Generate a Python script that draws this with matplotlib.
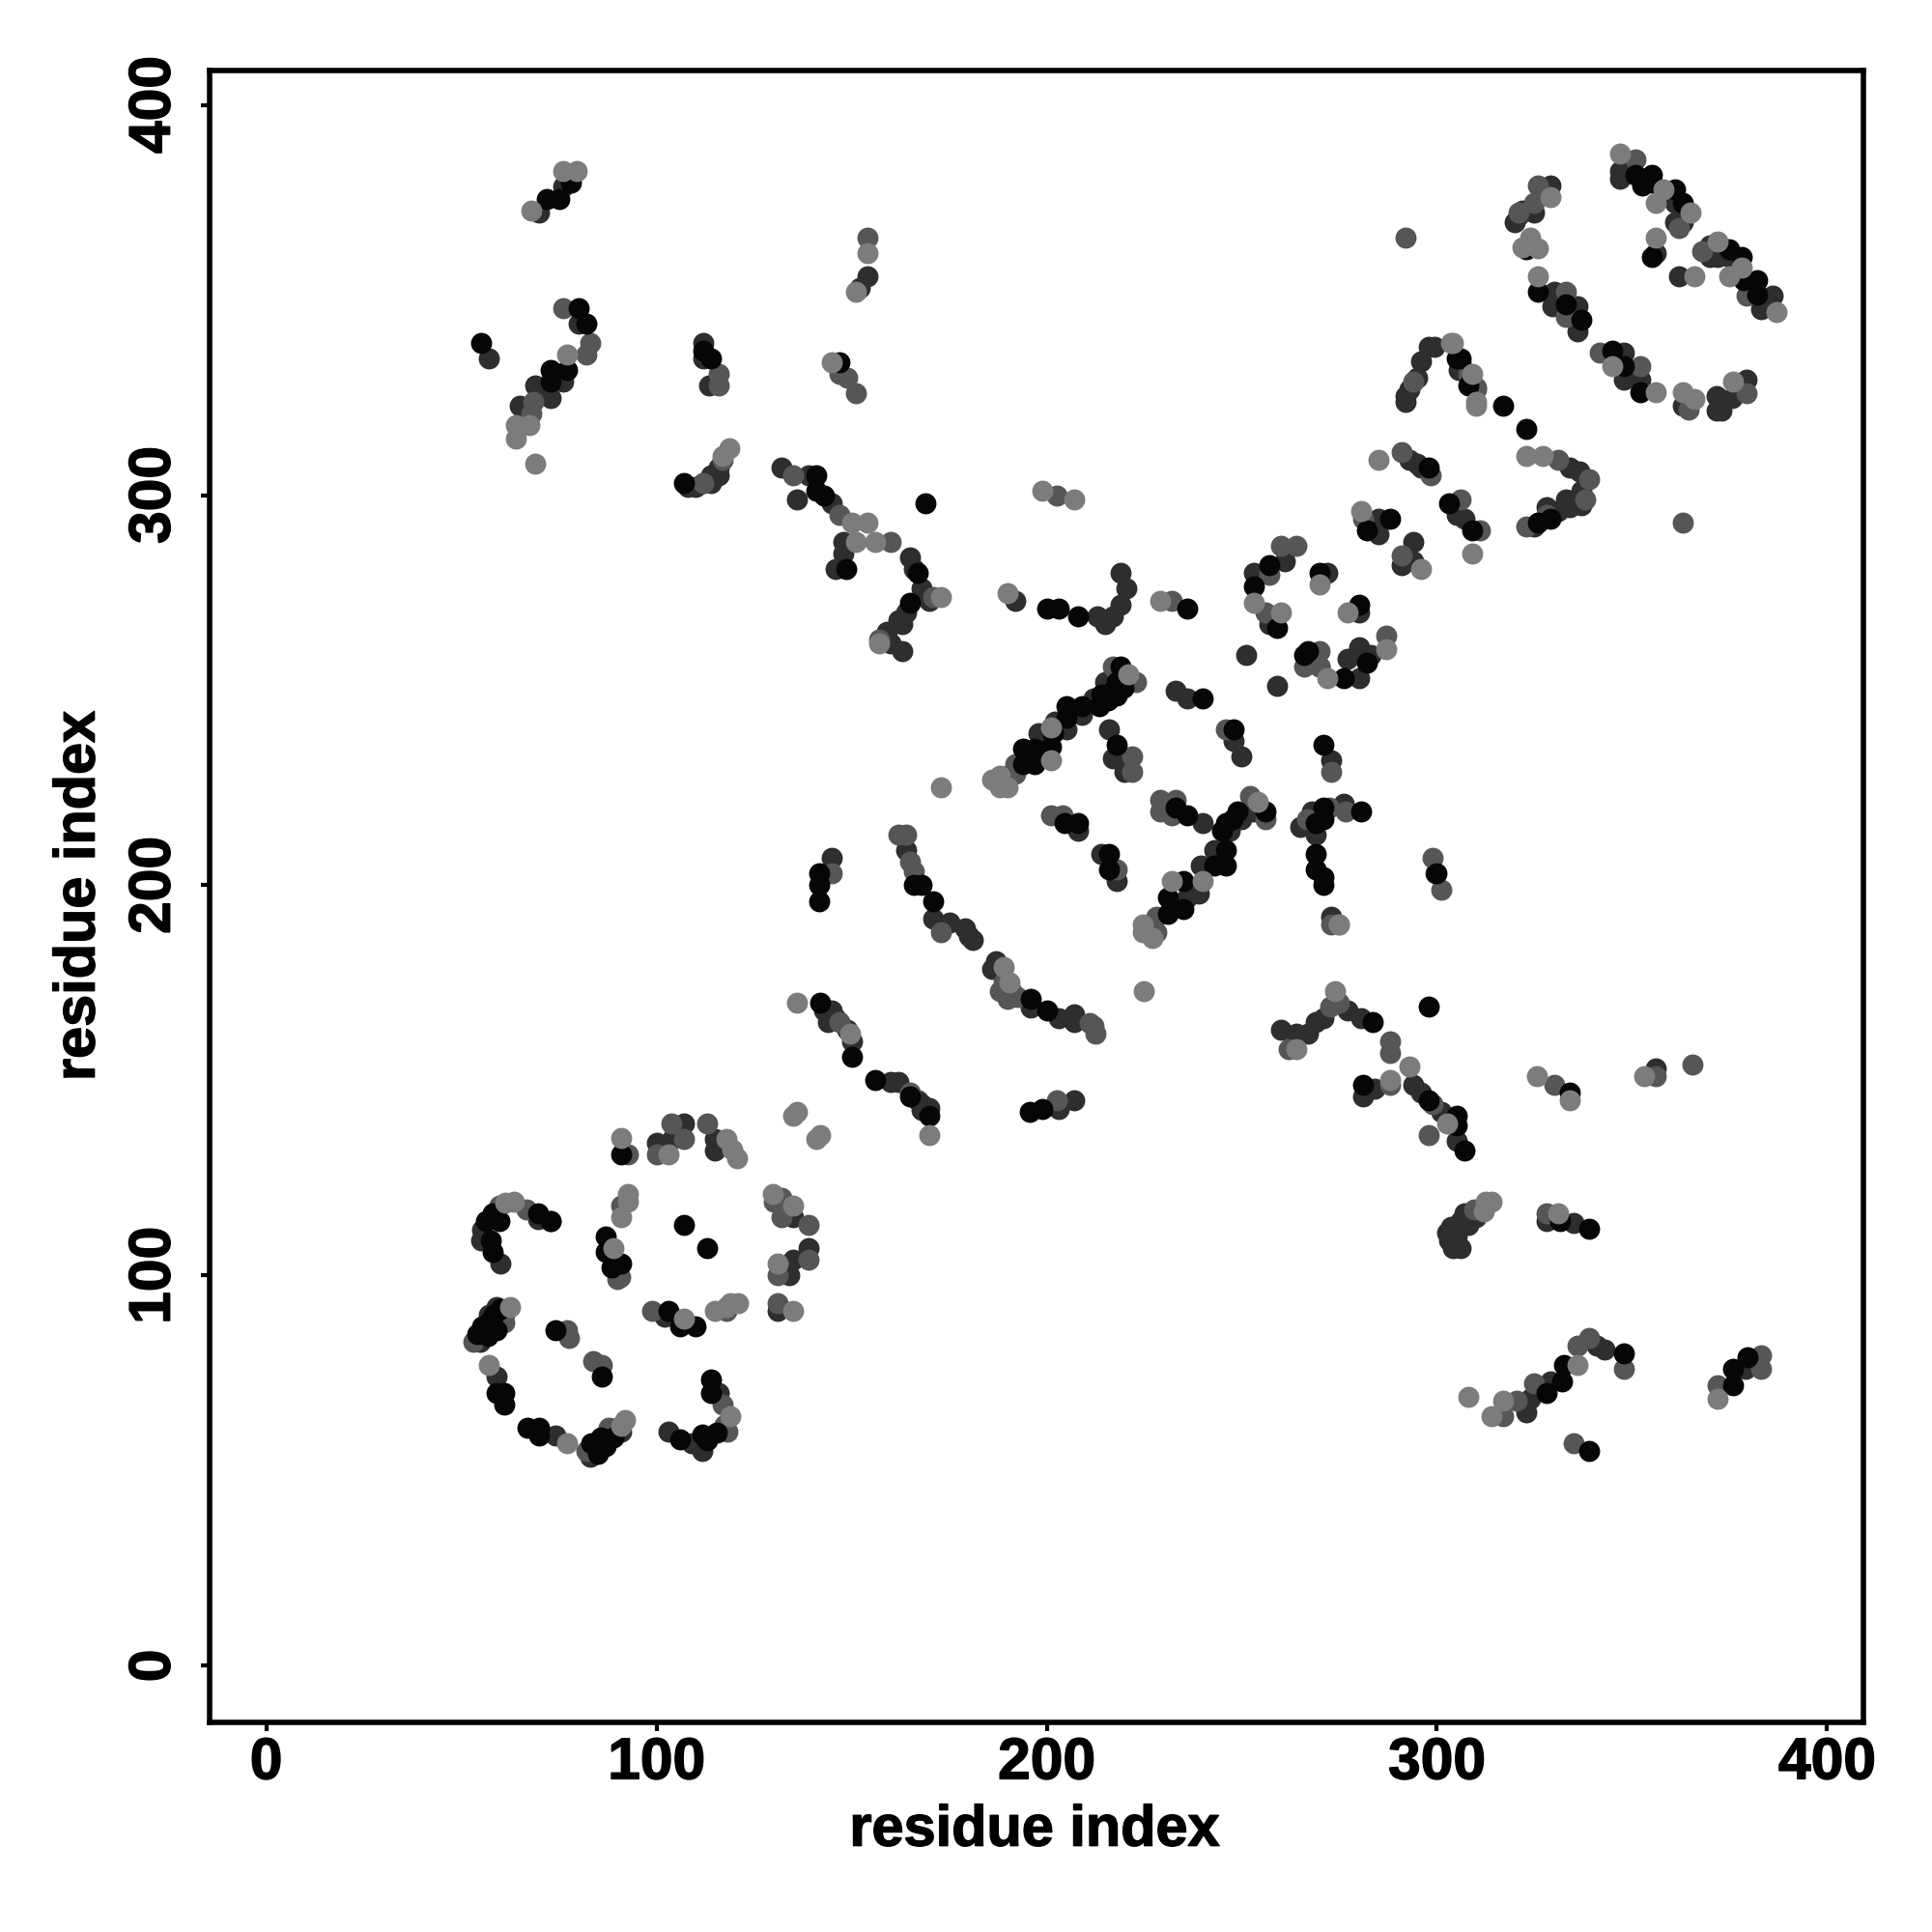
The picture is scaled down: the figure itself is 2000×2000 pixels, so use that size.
import numpy as np
import matplotlib
matplotlib.use('Agg')
import matplotlib.pyplot as plt
import matplotlib.patheffects as pe

# residue contacts, grouped by grey level
black = [(56.4,114),(58,116),(59.7,114),(57.6,109),(58,106),(69.7,116),(73,114),(87,110),(87,106),(91,103),(88.6,102),
 (107,113),(113,107),(103,91),(106,87),(110,87),(54,85),(55.4,87),(57,88),(58.4,90),(60,91.5),(56.8,84.5),(59,86),
 (74,86),(86,74),(59,70),(61,70),(61,67),(67,61),(70,61),(70,59),(83.2,57),(85,54.4),(85.7,58.5),(87,56.4),(89,58.5),
 (106,58),(113,57.7),(111.7,59.3),(115.4,59.7),(114,73.4),(114,70),(91,131),
 (351,382),(355,382),(352.6,379.4),(355,380),(361,378.4),(363,375),(355,361),(375,363),(378,361),(378.6,355),(382,355),(382,351.4),
 (326,352),(333,349),(337,345),(345,337),(348,333),(352,326.4),(306,335),(308,328),(317,323),(323,317),(323,363),
 (194,231),(194,235),(197,231),(197,235),(201,235.5),(201.6,239),(205,243),(205,246),(209,246),(213.5,246),(214,249),(215.6,247.4),(217,250),(218,248.7),(218,252),(219,256),(219.7,250.7),
 (240,248),(218,236),(248,240),(271,236),(267,260),(276,253),(233,220),(236,218),(256,219),(245,214),(246,216),(247.7,217),(249,219),
 (204.5,216),(208,216),(216,208),(216,204),(269,208),(269,204),(271,202),(271,200),(269,216),(271,217),(271,220),(280.5,219),
 (246,209),(243,205),(246,205),(235,201),(235,194),(231,197),(231,192.6),(196,171),(200,168),
 (72,376),(75,376),(78,380),(55,339),(80,348),(82,344),(77,332),(73,332),(73,329),(112,337),(114,335),(107,303),
 (141,305),(141,301),(143,300),(148.6,281),(167,280),(165,272.5),(169,298),(147,334),
 (200,271),(203,271),(208,269),(236,271),(305,335),(298,307),(326,293),(329,294),(303,298),(309,291),(288,294),(282,291),
 (253,276.6),(257,282),(259,266),(270,280),(266,259),(280,272),(282,257),
 (142,170),(150,156),(156,150),(165,146),(170,141),(141.6,203),(141.6,200),(141.6,196),(166,200),(168,200),(171,196),
 (195.6,142),(199,142.6),(298,169),(283.6,165),(298,145),(305,141),(305,138.6),(307,132),(281,149),(334,147),
 (339,112),(331.5,114),(328,70),(332.5,77),(332,73),(348,80),(339,55),(376,72),(376,76),(379.5,79),(300,203)]

dark = [(100,134),(107,139),(104,135),(115,135),(115,132),(73,114),(69.7,114.4),(60,103),(55,109),(55.4,111.7),(135,115),(139,107),(135,104),(134,100),
 (131,91),(102,89.4),(83,53.5),(54.7,83),(59,74),(74,59),(90,61),(103,60),(109,57),(111.7,55),(116,70),
 (347,383),(361,375),(363,370),(361,370),(356,362),(362,356),(370,364),(370,361),(375,361),(383,347.7),(386,351),
 (329,379.4),(325,372.4),(321,371.6),(330,352),(329.5,348.5),(336,348.5),(336,342),(348,336.5),(352,329.5),(348,329.5),(363,323),
 (371.6,325.4),(371.6,321.7),(373,321.7),(375.7,325),(379.4,329.5),(305.6,332),
 (198,239),(205,240),(209,243.6),(233,250),(236,248),(251,259),(259,251),(216,240),(217,232.6),(220,229),(248,237),(250,233),
 (270,256),(240,216),(208,214),(214,208),(276,221),(269,213),(267,216),(243,209),(239.5,205),(239,198),(236,197),(273,192),
 (187,180.6),(186,178.5),(196,168.6),(207,167),(218,201),(273,232),
 (70,372.5),(76,379),(57,335),(80,344),(76,329),(69,328),(73,325),(65,323),(112,339),(112,335),(113.5,328),(110,302),(114,305),(116,307),
 (132,307),(139,305),(136,299),(145,298),(148,288),(148,285),(146,281),(165,284),(166,281),(168,276),(164,270),(162,268),(159,265),(163,260),
 (152,353),(154,356),(192,273),(213,269),(215,267),(217,269),(219,272),(220.5,276),(219,280),
 (298,338),(299.5,338),(306,334),(296,334.4),(295,330),(293,327),(292,324),(292,325.5),(293,309),(295,308),(296,307),(334,307),(336.6,306),
 (337,297.5),(334,297),(331,296),(325,292),(305,295),(307,294),(285,294),(285,290),(294,288),(294,283),(291,282),
 (253,280),(261,283),(257,267),(272,280),(280,253),(280,261),(283,259),(280,270),(277,258),
 (143,168),(146,166),(150,160),(160,149.5),(162,149.5),(167,145),(168,142.5),(171,191.5),(175,190.5),(179,189),(180,187),(181,186),(145,207),(164,209),
 (203,166),(207,165),(203,142.6),(207,145),(260,163),(264,162),(267,162),(269,165),(271,166),(277,168),(280.5,166),(294,149),(296,147),(301,142),
 (305,134.6),(281,146),(284,148),(303.5,112.6),(302.5,111),(304,107),(306,107),(306,114),(307,116),(328,114),(335,113.6),
 (323,65),(324,68.4),(329,73),(341,82),(343,81),(379,76),(299.6,203),(356,153),
 # thicker rows of the bands
 (216,251),(212,248),(215,252),(112,303),(108,302),(114,303),(116,305),(85,57),(88,60),(91,60),(55,86),(57,90),(59,92),
 (163,267),(160,262),(170,273),(144,165),(149,163),(145,168),(168,144),(170,143),(247,214),(250,217),(253,219),(265,215),(268,219),
 (328,297),(333,299),(337,301),(303,109),(305,110),(308,113),(310,115),(195,233),(199,237),(202,242),(320,370),(322,373),(347,381),(372,361)]

mid = [(92.7,131),(100,131),(103.8,139),(107,135),(113,139),(66.7,117),(59.7,118),(91,118),(90.8,99.7),(90,99),(132,120),(130,119),(132,115),(139,113),(139,104),(131,100),
 (131,93),(99,91),(118,91),(53,83),(61,90),(61,88),(77,86),(77.6,84),(83.8,78),(86,77),(82,55),(87.7,61),(118.3,60),(117.4,61.8),(117,67),
 (351,386),(352,333),(368,362.4),(379.4,351),(326,379.4),(325,375),(321,372.4),(333,352),(333,345.6),(341.7,336.4),(362,368.5),(364.5,322),(379.4,326),(310,327.5),
 (192,231),(192,228.5),(190,228),(217,256),(223,252),(222,233),(222,229),(246,240),(273,229),(270,260),(270,256),
 (229,222),(233,222),(229,219),(232,218),(252,223),(256,217),(204,218),(201,218),(218,204),(273,190),(266.8,217),(272.5,220),(276.6,219),
 (228,192),(228,188),(188,173),(190,171),(192.5,171.5),
 (76,348),(83,339),(82,336),(68.5,324),(68,321),(116,331),(116,328),(112,303),(117,309),(135,305),(147,295),(160,288),(171,274),(157,263),(154,366),(147,331),(149,330),(151,326),
 (202.5,300),(232,273),(292,366),(363,293),(294,329),(308,331),(310,327),(291,311),(298.5,305),(331,309),(339,304),(338,299),(328,295),(323,292),(306,299),(311,291),(281,294),(291,284.5),
 (257,279.5),(260,287),(264,287),(256,270),(287,264),(266,256),
 (147,165),(165,147),(145,203),(165,206),(166,203.5),(173,188),(189,175),(191,173),(212,164),(212.6,162),(211,164.6),(202.5,145),(162,213),(164,213),
 (262,158),(272.6,169),(275,170),(288,160),(288,157),(288,149),(299,144),(298,136),(330,149),(356,151),(365.6,154),(309.5,117),(328,116),
 (317,64),(320.5,68),(325,72.5),(336,82),(339,84),(348,76),(335,57),(372,72),(383,79.5),(383,76),(299,207),(301,199)]

gray = [(135,141),(136,142),(141,135),(142,136),(90.9,135.2),(103,131),(118,135),(119.5,132.4),(120.7,130),(63.4,119),(61.3,118.7),(92.8,121),(92.8,119),(91,115),(89,107),
 (129.8,121),(135,118),(131,103),(135,91),(107,89),(115,91),(119,93),(121,93),(118,92),(62.6,92),(57,77),(77,57),(91.9,63),(91,61.4),(119,64),
 (347,387.4),(358,378.4),(356,375),(365,372.4),(356,366),(366,356),(372,365),(378,358.4),(375,356),(387,347),(329,376.4),(324,366),(326,363.3),(322,363.5),(326,356),
 (345,333),(356,326.4),(363,326.4),(366,324.6),(376,329),(304,339),(309,331),(310,324),
 (186,227),(188,228),(188,225),(190,225),(201,240.4),(201,232),(221,254),(272,253),(254,221.4),(275,190),(240,201),(232,201),(224.7,190),(224.7,188),(227,186.4),(225,173),(189,179),(190.4,175),
 (68,373),(76,383),(79.5,383),(77,336),(64,318),(67.5,318),(64,314.5),(69,308),(118.6,312),(117,310),(150,293),(154,293),(151,288),(156,288),(173,274),(157,262),(154,362),(151,352),(145,334),
 (190,275),(229,273),(199,301),(207,299),(173,225),(303.5,339),(310,323),(285,309),(323,310),(327,310),(309,285),(280.5,296),(296,281),(253,272.5),(260,270),(270,277),(287,260.5),(277,270),
 (136,170),(149.5,162),(170,136),(264,158),(274,173),(288,150),(293,153.6),(302.5,139),(325.6,151),(334,145),(353,151),(312.6,119),(314,119),(312,116.4),(331,116),
 (308,69),(314,64),(317,68),(336,77),(372,68.5),(275,190)]

layers = [(dark, '#2e2e2e'), (mid, '#565656'), (black, '#060606'), (gray, '#7c7c7c')]
ticks = [0, 100, 200, 300, 400]

plt.rcParams['font.family'] = ['Liberation Sans', 'DejaVu Sans']
plt.rcParams['font.weight'] = 'bold'

fig = plt.figure(figsize=(10, 10), dpi=200)
ax = fig.add_axes([0.1085, 0.1085, 0.856, 0.855])

for pts, col in layers:
    pts = np.array(pts)
    ax.scatter(pts[:, 0], pts[:, 1], s=62, c=col, linewidths=0)

ax.set_xlim(-14.5, 409.3)
ax.set_ylim(-14.5, 408.8)
ax.set_xticks(ticks)
ax.set_yticks(ticks)
ax.tick_params(axis='x', length=3.2, width=1.5, labelsize=21.8, pad=2)
ax.tick_params(axis='y', length=3.2, width=1.5, labelsize=21.8, pad=7)
for lab in ax.get_yticklabels():
    lab.set_rotation(90)
    lab.set_va('center')
for sp in ax.spines.values():
    sp.set_linewidth(2.0)

ax.set_xlabel('residue index', fontsize=21.4, fontweight='bold')
ax.set_ylabel('residue index', fontsize=21.4, fontweight='bold')
ax.xaxis.set_label_coords(0.4985, -0.0495)
ax.yaxis.set_label_coords(-0.0627, 0.5)

# the original type is a bit heavier than Liberation bold
stroke = [pe.withStroke(linewidth=0.5, foreground='black')]
for t in ax.get_xticklabels() + ax.get_yticklabels() + [ax.xaxis.label, ax.yaxis.label]:
    t.set_path_effects(stroke)

fig.savefig('out.png')
